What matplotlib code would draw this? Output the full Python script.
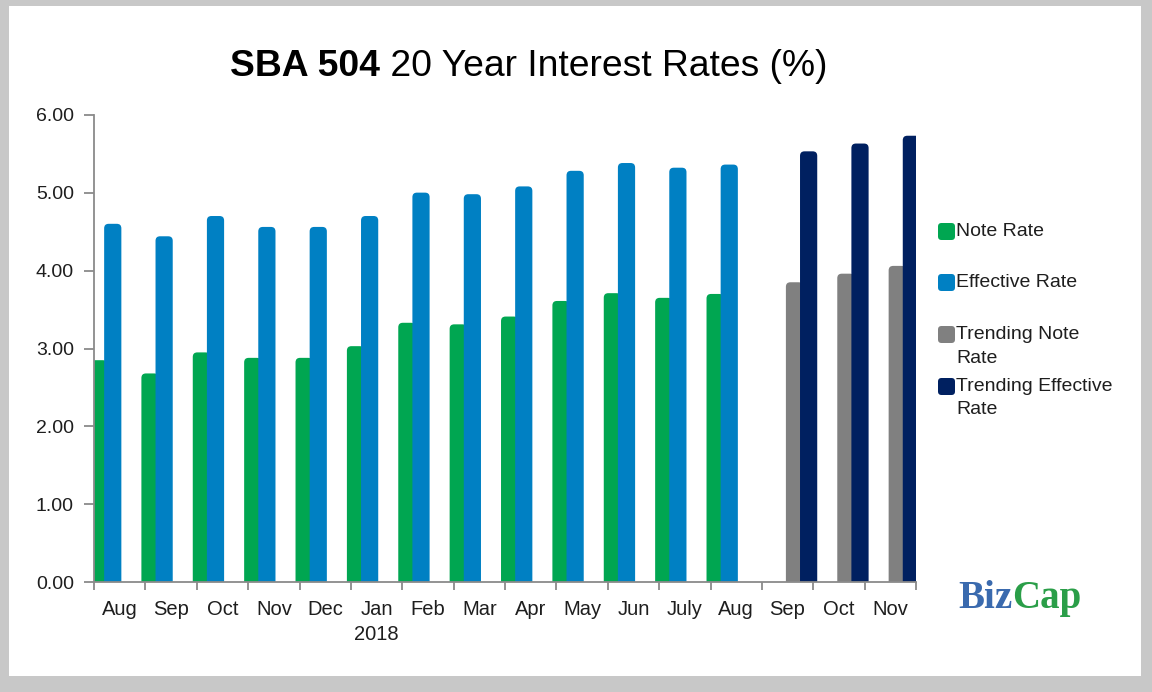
import matplotlib
matplotlib.use("Agg")
import matplotlib.pyplot as plt
import numpy as np
from matplotlib.patches import FancyBboxPatch, Rectangle
from matplotlib.transforms import IdentityTransform

# ---------------- data ----------------
categories = ["Aug", "Sep", "Oct", "Nov", "Dec", "Jan\n2018", "Feb", "Mar", "Apr",
              "May", "Jun", "July", "Aug", "Sep", "Oct", "Nov"]
note_rate = [2.85, 2.68, 2.95, 2.88, 2.88, 3.03, 3.33, 3.31, 3.41, 3.61, 3.71, 3.65, 3.70]
effective_rate = [4.60, 4.44, 4.70, 4.56, 4.56, 4.70, 5.00, 4.98, 5.08, 5.28, 5.38, 5.32, 5.36]
trending_note = [3.85, 3.96, 4.06]
trending_effective = [5.53, 5.63, 5.73]
series_labels = ["Note Rate", "Effective Rate", "Trending Note\nRate", "Trending Effective\nRate"]
y_ticks = [0, 1, 2, 3, 4, 5, 6]

# ---------------- style ----------------
GREEN = "#00A651"
BLUE = "#0080C3"
GREY = "#808080"
NAVY = "#002060"
TXT = "#1e1e1e"
SPINE = "#8a8a8a"

plt.rcParams["font.family"] = ["Liberation Sans", "DejaVu Sans"]

W, H = 1152, 692
def fx(px):
    return px / W
def fy(py):
    return 1 - py / H

fig = plt.figure(figsize=(W / 100, H / 100), dpi=100, facecolor="#c8c8c8")
fig.patches.append(Rectangle((fx(9), fy(676)), fx(1141) - fx(9), (676 - 6) / H,
                             transform=fig.transFigure, facecolor="white",
                             edgecolor="none", zorder=-10))

ax = fig.add_axes([fx(94), fy(582.3), fx(916) - fx(94), (582.3 - 114.7) / H])
ax.set_xlim(-0.5, len(categories) - 0.5)
ax.set_ylim(0, 6)
ax.set_facecolor("white")

x_hist = np.arange(len(note_rate))
x_tr = np.arange(len(note_rate), len(categories))
bw = 0.335
b1 = ax.bar(x_hist - 0.41, note_rate, width=bw, color=GREEN, linewidth=0)
b2 = ax.bar(x_hist - 0.135, effective_rate, width=bw, color=BLUE, linewidth=0)
b3 = ax.bar(x_tr + 0.135, trending_note, width=bw, color=GREY, linewidth=0)
b4 = ax.bar(x_tr + 0.41, trending_effective, width=bw, color=NAVY, linewidth=0)

# rounded tops: rebuild each bar from its own geometry
px_per_x = ax.bbox.width / (len(categories))
px_per_y = ax.bbox.height / 6.0
aspect = px_per_x / px_per_y
r = 4.5 / px_per_x
z = 1
for cont, col in [(b1, GREEN), (b2, BLUE), (b3, GREY), (b4, NAVY)]:
    for rect in cont.patches:
        x0, w, h = rect.get_x(), rect.get_width(), rect.get_height()
        rect.set_visible(False)
        p = FancyBboxPatch((x0, -0.3), w, h + 0.3,
                           boxstyle=f"round,pad=0,rounding_size={r}",
                           mutation_aspect=aspect, facecolor=col,
                           edgecolor="none", zorder=z)
        ax.add_patch(p)
    z += 0.01

# axes / ticks
for s in ["top", "right"]:
    ax.spines[s].set_visible(False)
for s in ["left", "bottom"]:
    ax.spines[s].set_color(SPINE)
    ax.spines[s].set_linewidth(1.3)
    ax.spines[s].set_zorder(5)

ax.set_xticks(np.arange(len(categories)))
ax.set_xticklabels(categories)
ax.set_xticks(np.arange(-0.5, len(categories), 1), minor=True)
ax.tick_params(axis="x", which="major", length=0, pad=13, labelsize=14.5, labelcolor=TXT)
ax.tick_params(axis="x", which="minor", length=6, width=1.3, color=SPINE, direction="out")
for lab in ax.get_xticklabels():
    lab.set_linespacing(1.4)
ax.set_yticks(y_ticks)
ax.set_yticklabels([f"{v:.2f}" for v in y_ticks])
ax.tick_params(axis="y", length=7, width=1.3, color=SPINE, pad=7.5, labelsize=14,
               labelcolor=TXT)

# title (bold + regular parts)
fig.canvas.draw()
rend = fig.canvas.get_renderer()
t1 = fig.text(fx(230), fy(76), "SBA 504", fontsize=26.8, weight="bold",
              va="baseline", ha="left", color="black")
bb = t1.get_window_extent(renderer=rend)
fig.text(bb.x1 / W, fy(76), " 20 Year Interest Rates (%)", fontsize=26.8,
         va="baseline", ha="left", color="black")

# legend (manual)
leg_rows = [231.5, 282.5, 334.5, 386.5]
leg_cols = [GREEN, BLUE, GREY, NAVY]
for yc, col, lab in zip(leg_rows, leg_cols, series_labels):
    box = FancyBboxPatch((938, H - yc - 8.5), 17, 17,
                         boxstyle="round,pad=0,rounding_size=3.5",
                         transform=IdentityTransform(), facecolor=col,
                         edgecolor="none")
    fig.patches.append(box)
    for i, line in enumerate(lab.split("\n")):
        fig.text(fx(956.5), fy(yc + 23.5 * i), line, fontsize=14, va="center",
                 ha="left", color=TXT)

# BizCap logo text
lb = fig.text(fx(958), fy(608), "Biz", fontsize=28, weight="bold",
              family=["Liberation Serif", "DejaVu Serif"], color="#3a6aae",
              va="baseline", ha="left")
bb2 = lb.get_window_extent(renderer=rend)
fig.text(bb2.x1 / W, fy(608), "Cap", fontsize=28, weight="bold",
         family=["Liberation Serif", "DejaVu Serif"], color="#2a9e48",
         va="baseline", ha="left")

fig.savefig("out.png", dpi=100, facecolor=fig.get_facecolor())
